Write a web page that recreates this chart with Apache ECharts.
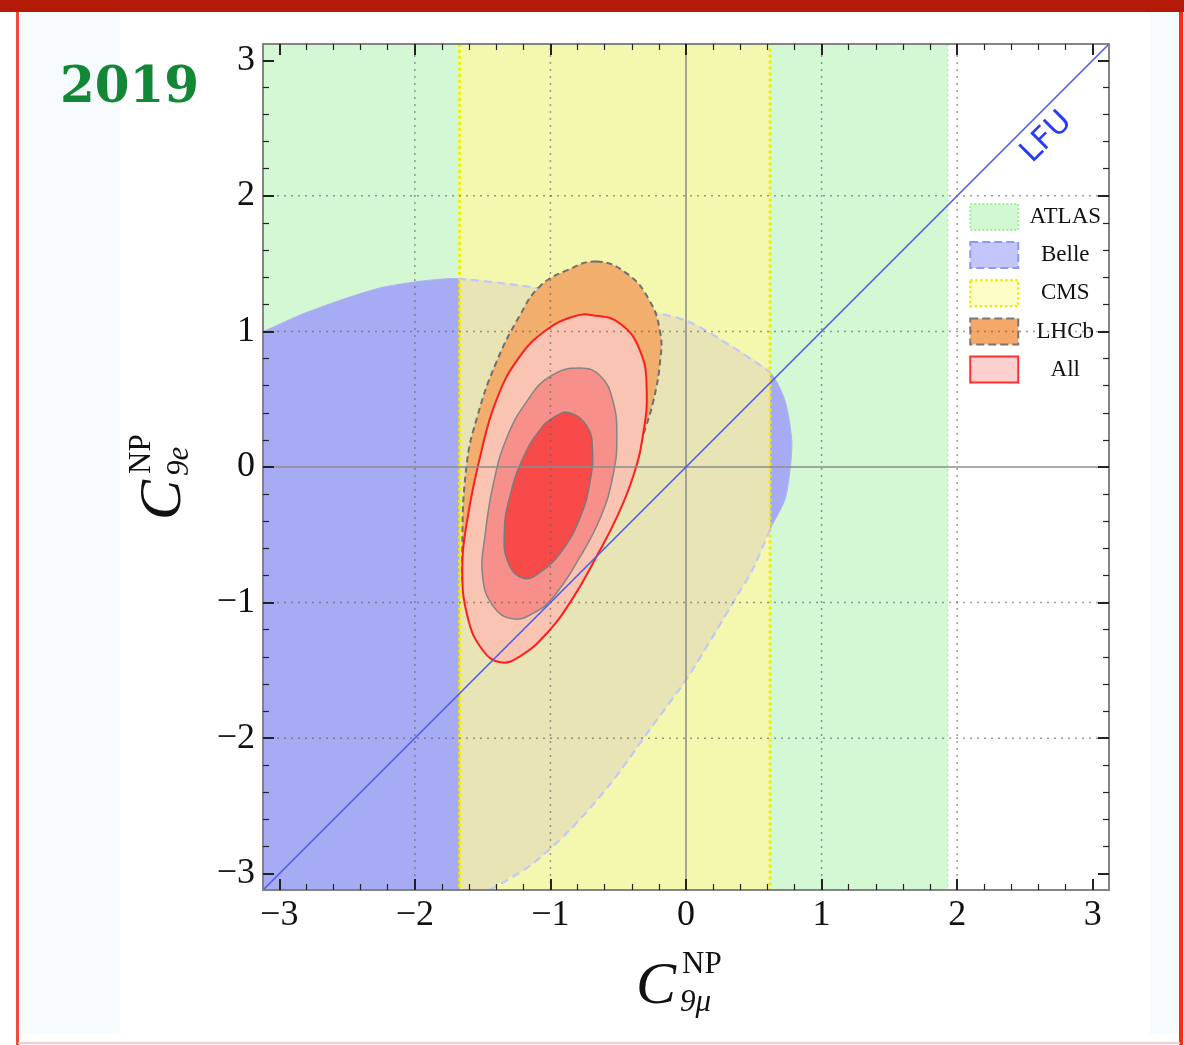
<!DOCTYPE html>
<html><head><meta charset="utf-8">
<script src="https://cdn.jsdelivr.net/npm/echarts@6/dist/echarts.min.js"></script>
<style>html,body{margin:0;padding:0;background:#fff;}#c{width:1184px;height:1045px;}</style>
</head><body><div id="c"></div>
<script>
// ---------- data ----------
const AXIS_MIN = -3.12, AXIS_MAX = 3.12;
const majorTicks = [-3, -2, -1, 0, 1, 2, 3];
const minorTicks = [-2.8, -2.6, -2.4, -2.2, -1.8, -1.6, -1.4, -1.2, -0.8, -0.6, -0.4, -0.2,
  0.2, 0.4, 0.6, 0.8, 1.2, 1.4, 1.6, 1.8, 2.2, 2.4, 2.6, 2.8];
const gridLineValues = [-2, -1, 1, 2];
const zeroLineValues = [0];
const atlasBand = [-3.3, 1.93];
const cmsBand = [-1.67, 0.62];
const belleRegion = [
  [-3.5, 0.88], [-3.12, 1.00], [-2.85, 1.12], [-2.55, 1.23], [-2.26, 1.32], [-1.96, 1.37],
  [-1.68, 1.39], [-1.23, 1.34], [-0.78, 1.26], [-0.34, 1.16], [0.00, 1.08], [0.32, 0.90],
  [0.62, 0.70], [0.73, 0.49], [0.78, 0.20], [0.77, 0.00], [0.73, -0.24], [0.62, -0.46],
  [0.49, -0.76], [0.40, -0.91], [0.18, -1.28], [0.00, -1.57], [-0.27, -1.94], [-0.56, -2.34],
  [-0.86, -2.68], [-1.15, -2.94], [-1.45, -3.12], [-1.62, -3.5], [-3.5, -3.5]
];
// Belle contour segments lying inside the CMS band (drawn dashed on top)
const belleEdgeUpper = [
  [-1.68, 1.39], [-1.23, 1.34], [-0.78, 1.26], [-0.34, 1.16], [0.00, 1.08], [0.32, 0.90], [0.62, 0.70]
];
const belleEdgeLower = [
  [0.62, -0.46], [0.49, -0.76], [0.40, -0.91], [0.18, -1.28], [0.00, -1.57], [-0.27, -1.94],
  [-0.56, -2.34], [-0.86, -2.68], [-1.15, -2.94], [-1.45, -3.12]
];
const lhcbRegion = [
  [-0.66, 1.515], [-0.44, 1.43], [-0.27, 1.23], [-0.19, 0.99], [-0.19, 0.79], [-0.24, 0.49],
  [-0.32, 0.22], [-0.41, -0.07], [-0.58, -0.44], [-0.83, -0.86], [-1.08, -1.18], [-1.32, -1.31],
  [-1.54, -1.18], [-1.63, -0.98], [-1.65, -0.61], [-1.62, 0.00], [-1.54, 0.37], [-1.40, 0.77],
  [-1.23, 1.11], [-1.08, 1.33], [-0.88, 1.45]
];
const allOuter = [
  [-0.69, 1.12], [-0.49, 1.06], [-0.34, 0.86], [-0.29, 0.57], [-0.32, 0.22], [-0.39, -0.07],
  [-0.51, -0.37], [-0.66, -0.66], [-0.83, -0.96], [-1.03, -1.23], [-1.23, -1.40], [-1.37, -1.44],
  [-1.50, -1.35], [-1.61, -1.11], [-1.65, -0.74], [-1.61, -0.37], [-1.52, 0.07], [-1.40, 0.49],
  [-1.23, 0.81], [-1.03, 1.01], [-0.83, 1.11]
];
const allMiddle = [
  [-0.78, 0.73], [-0.63, 0.67], [-0.54, 0.49], [-0.51, 0.22], [-0.54, -0.07], [-0.63, -0.37],
  [-0.78, -0.66], [-0.98, -0.96], [-1.13, -1.08], [-1.28, -1.12], [-1.42, -1.03], [-1.50, -0.81],
  [-1.48, -0.49], [-1.42, -0.12], [-1.32, 0.22], [-1.17, 0.49], [-1.00, 0.67]
];
const allInner = [
  [-0.86, 0.40], [-0.73, 0.30], [-0.69, 0.13], [-0.71, -0.12], [-0.78, -0.37], [-0.91, -0.61],
  [-1.08, -0.78], [-1.20, -0.82], [-1.31, -0.71], [-1.34, -0.49], [-1.30, -0.22], [-1.20, 0.07],
  [-1.08, 0.27], [-0.97, 0.37]
];
const lfuLine = [[-3.12, -3.12], [3.12, 3.12]];
const lfuLabelAt = [2.66, 2.43];
const legendNames = ['ATLAS', 'Belle', 'CMS', 'LHCb', 'All'];

// ---------- helpers ----------
const SERIF = '"Liberation Serif", "DejaVu Serif", serif';
function bandPolygon(range) {
  return [[range[0], AXIS_MIN - 0.2], [range[1], AXIS_MIN - 0.2], [range[1], AXIS_MAX + 0.2], [range[0], AXIS_MAX + 0.2]];
}
function regionSeries(name, pts, style, z, smooth, shapeType) {
  return {
    type: 'custom', name: name, z: z, clip: true, silent: true,
    itemStyle: { color: style.fill },
    data: pts,
    renderItem: function (params, api) {
      if (params.dataIndex !== 0) return null;
      const points = pts.map(p => api.coord(p));
      return { type: shapeType || 'polygon', shape: { points: points, smooth: smooth || 0 }, style: style };
    }
  };
}
function lineSetSeries(name, values, vertical, style, z) {
  return {
    type: 'custom', name: name, z: z, clip: true, silent: true,
    data: values.map(v => [v]),
    renderItem: function (params, api) {
      const v = api.value(0);
      const a = vertical ? api.coord([v, AXIS_MIN]) : api.coord([AXIS_MIN, v]);
      const b = vertical ? api.coord([v, AXIS_MAX]) : api.coord([AXIS_MAX, v]);
      return { type: 'line', shape: { x1: a[0], y1: a[1], x2: b[0], y2: b[1] }, style: style };
    }
  };
}
const fmt = v => String(v).replace('-', '\u2212');
function axisCfg(kind, position, ticks, len, labels) {
  return {
    type: 'value', position: position, min: AXIS_MIN, max: AXIS_MAX, z: 20,
    axisLine: { show: true, onZero: false, lineStyle: { color: '#7d7d7d', width: 1.5 } },
    axisTick: { show: true, inside: true, length: len, customValues: ticks,
      lineStyle: { color: '#222', width: len > 8 ? 2 : 1.2 } },
    axisLabel: { show: labels, customValues: majorTicks, formatter: fmt, margin: 8,
      fontFamily: SERIF, fontSize: 36, color: '#111' },
    splitLine: { show: false }, minorTick: { show: false }
  };
}

// ---------- chart ----------
const chart = echarts.init(document.getElementById('c'), null, { renderer: 'canvas' });
const option = {
  animation: false,
  backgroundColor: '#ffffff',
  grid: { left: 263, top: 44, width: 846, height: 846, show: false },
  xAxis: [
    axisCfg('x', 'bottom', majorTicks, 11, true),
    axisCfg('x', 'top', majorTicks, 11, false),
    axisCfg('x', 'bottom', minorTicks, 6, false),
    axisCfg('x', 'top', minorTicks, 6, false)
  ],
  yAxis: [
    axisCfg('y', 'left', majorTicks, 11, true),
    axisCfg('y', 'right', majorTicks, 11, false),
    axisCfg('y', 'left', minorTicks, 6, false),
    axisCfg('y', 'right', minorTicks, 6, false)
  ],
  legend: {
    orient: 'vertical', left: 969, top: 203, padding: 0, itemWidth: 48, itemHeight: 26, itemGap: 10,
    icon: 'rect', selectedMode: false,
    formatter: n => '{t|' + n + '}',
    textStyle: { rich: { t: { width: 84, lineHeight: 26, align: 'center', fontFamily: SERIF, fontSize: 23, color: '#111' } } },
    data: [
      { name: 'ATLAS', itemStyle: { color: '#d2f8d2', borderColor: '#a2eea2', borderWidth: 2, borderType: 'dotted' } },
      { name: 'Belle', itemStyle: { color: '#c2c6fa', borderColor: '#8f98f4', borderWidth: 2, borderType: 'dashed' } },
      { name: 'CMS', itemStyle: { color: '#fdfdc6', borderColor: '#f0ee00', borderWidth: 2.5, borderType: 'dotted' } },
      { name: 'LHCb', itemStyle: { color: '#f4a86a', borderColor: '#777777', borderWidth: 2, borderType: 'dashed' } },
      { name: 'All', itemStyle: { color: '#fdd0d0', borderColor: '#ff3030', borderWidth: 2, borderType: 'solid' } }
    ]
  },
  series: [
    regionSeries('ATLAS', bandPolygon(atlasBand),
      { fill: '#d3f8d3', stroke: '#b0eeb0', lineWidth: 1.5, lineDash: [2, 3] }, 1, 0),
    regionSeries('Belle', belleRegion,
      { fill: '#a7abf3', stroke: '#aeb2f5', lineWidth: 1 }, 2, 0.25),
    regionSeries('CMS', bandPolygon(cmsBand),
      { fill: 'rgba(255,248,160,0.74)', stroke: '#f2ee00', lineWidth: 3, lineDash: [3, 3] }, 3, 0),
    regionSeries('Belle edge 1', belleEdgeUpper,
      { fill: null, stroke: '#c3c9f6', lineWidth: 2.2, lineDash: [8, 5] }, 3.5, 0.3, 'polyline'),
    regionSeries('Belle edge 2', belleEdgeLower,
      { fill: null, stroke: '#c3c9f6', lineWidth: 2.2, lineDash: [8, 5] }, 3.5, 0.3, 'polyline'),
    regionSeries('LHCb', lhcbRegion,
      { fill: '#f2ae6c', stroke: '#6f6f6f', lineWidth: 2, lineDash: [6, 4] }, 4, 0.45),
    regionSeries('All', allOuter,
      { fill: '#f9c4b2', stroke: '#ff1e1e', lineWidth: 2 }, 5, 0.45),
    regionSeries('All 2', allMiddle,
      { fill: '#f7908a', stroke: '#858585', lineWidth: 1.5 }, 6, 0.45),
    regionSeries('All 3', allInner,
      { fill: '#f84a48', stroke: '#7a7a7a', lineWidth: 1.5 }, 7, 0.45),
    lineSetSeries('vgrid', gridLineValues, true, { stroke: 'rgba(90,90,90,0.6)', lineWidth: 1.5, lineDash: [2, 5] }, 8),
    lineSetSeries('hgrid', gridLineValues, false, { stroke: 'rgba(90,90,90,0.6)', lineWidth: 1.5, lineDash: [2, 5] }, 8),
    lineSetSeries('vzero', zeroLineValues, true, { stroke: '#8c8c8c', lineWidth: 1.5 }, 8),
    lineSetSeries('hzero', zeroLineValues, false, { stroke: '#8c8c8c', lineWidth: 1.5 }, 8),
    {
      type: 'line', name: 'LFU', data: lfuLine, z: 9, silent: true, symbol: 'none',
      lineStyle: { color: '#4a5cf0', width: 1.6 }
    },
    {
      type: 'custom', name: 'LFU label', z: 9, silent: true, data: [lfuLabelAt],
      renderItem: function (params, api) {
        const p = api.coord([api.value(0), api.value(1)]);
        return { type: 'text', x: p[0], y: p[1], rotation: Math.PI / 4,
          style: { text: 'LFU', fill: '#2a3cf0', font: '31px "DejaVu Sans", sans-serif', align: 'center', verticalAlign: 'middle' } };
      }
    }
  ],
  graphic: [
    { type: 'rect', shape: { x: 20, y: 12, width: 100, height: 1022 }, style: { fill: '#f5fbfc' }, silent: true, z: -10 },
    { type: 'rect', shape: { x: 1150, y: 12, width: 28, height: 1022 }, style: { fill: '#f5fbfc' }, silent: true, z: -10 },
    { type: 'rect', shape: { x: 0, y: 0, width: 1184, height: 12 }, style: { fill: '#b41a08' }, silent: true },
    { type: 'line', shape: { x1: 17.5, y1: 12, x2: 17.5, y2: 1045 }, style: { stroke: '#f24a3a', lineWidth: 3 }, silent: true },
    { type: 'line', shape: { x1: 1181, y1: 12, x2: 1181, y2: 1045 }, style: { stroke: '#ff2a12', lineWidth: 4 }, silent: true },
    { type: 'line', shape: { x1: 18, y1: 1043, x2: 1180, y2: 1043 }, style: { stroke: '#f6cdc6', lineWidth: 2 }, silent: true },
    { type: 'text', x: 60, y: 64, style: { text: '2019', font: 'bold 50px "DejaVu Serif", serif', fill: '#128836' }, silent: true },
    {
      type: 'group', x: 686, y: 985, silent: true,
      children: [
        { type: 'text', x: -30, y: 2, style: { text: 'C', font: 'italic 60px ' + SERIF, fill: '#111', align: 'center', verticalAlign: 'middle' } },
        { type: 'text', x: -4, y: -20, style: { text: 'NP', font: '31px ' + SERIF, fill: '#111', align: 'left', verticalAlign: 'middle' } },
        { type: 'text', x: -6, y: 18, style: { text: '9\u03bc', font: 'italic 31px ' + SERIF, fill: '#111', align: 'left', verticalAlign: 'middle' } }
      ]
    },
    {
      type: 'group', x: 162, y: 470, rotation: Math.PI / 2, silent: true,
      children: [
        { type: 'text', x: -30, y: 2, style: { text: 'C', font: 'italic 60px ' + SERIF, fill: '#111', align: 'center', verticalAlign: 'middle' } },
        { type: 'text', x: -4, y: -20, style: { text: 'NP', font: '31px ' + SERIF, fill: '#111', align: 'left', verticalAlign: 'middle' } },
        { type: 'text', x: -6, y: 18, style: { text: '9e', font: 'italic 31px ' + SERIF, fill: '#111', align: 'left', verticalAlign: 'middle' } }
      ]
    }
  ]
};
chart.setOption(option);
</script>
</body></html>
